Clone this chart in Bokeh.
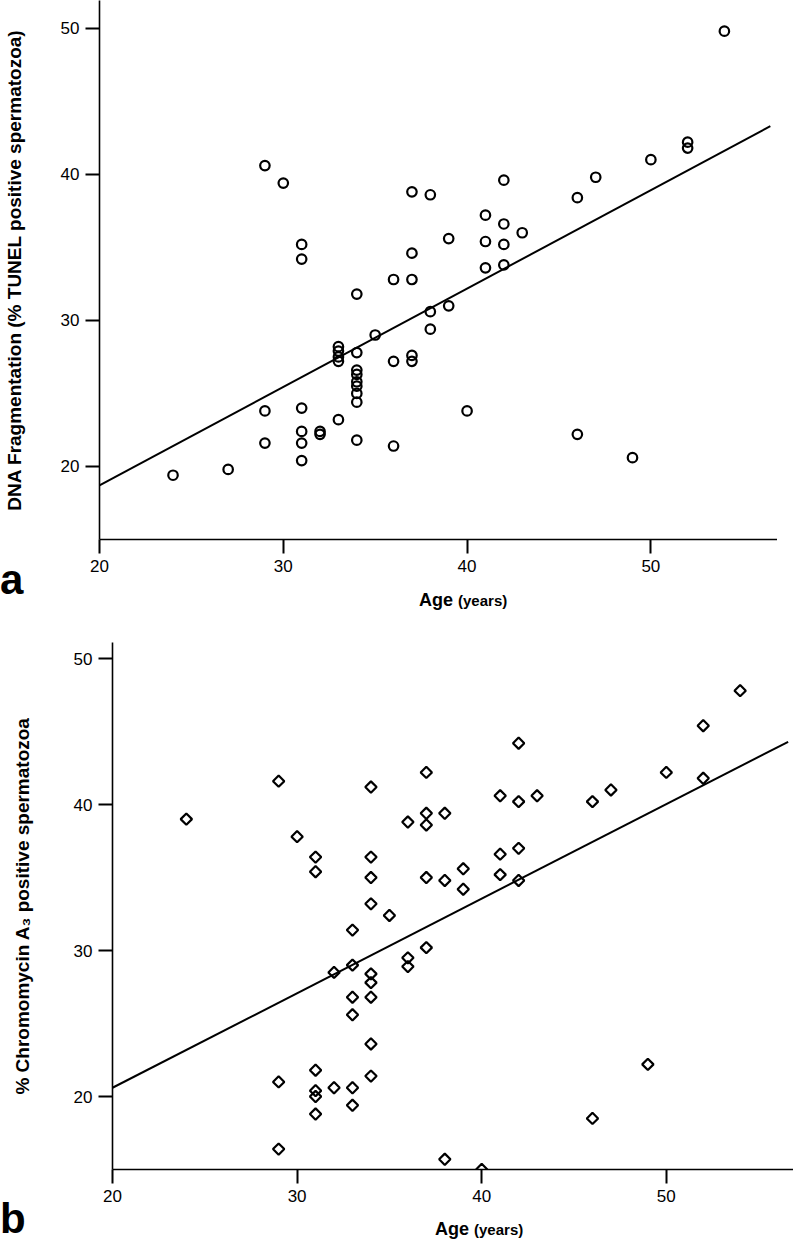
import numpy as np
from bokeh.plotting import figure
from bokeh.layouts import column, row
from bokeh.models import FixedTicker, Range1d, Div
from bokeh.embed import file_html
from bokeh.resources import INLINE

# ---- data ----
age_a = [24, 27, 29, 29, 29, 30, 31, 31, 31, 31, 31, 31, 32, 32, 33, 33, 33, 33, 33,
         34, 34, 34, 34, 34, 34, 34, 34, 34, 35, 36, 36, 36, 37, 37, 37, 37, 37,
         38, 38, 38, 39, 39, 40, 41, 41, 41, 42, 42, 42, 42, 43, 46, 46, 47, 49,
         50, 52, 52, 54]
dna_a = [19.4, 19.8, 40.6, 23.8, 21.6, 39.4, 35.2, 34.2, 24.0, 22.4, 21.6, 20.4,
         22.4, 22.2, 28.2, 27.9, 27.5, 27.2, 23.2, 31.8, 27.8, 26.6, 26.3, 25.8,
         25.5, 25.0, 24.4, 21.8, 29.0, 32.8, 27.2, 21.4, 38.8, 34.6, 32.8, 27.6,
         27.2, 38.6, 30.6, 29.4, 35.6, 31.0, 23.8, 37.2, 35.4, 33.6, 39.6, 36.6,
         35.2, 33.8, 36.0, 38.4, 22.2, 39.8, 20.6, 41.0, 42.2, 41.8, 49.8]
fit_x_a = [20, 56.5]
fit_y_a = [18.7, 43.3]

age_b = [24, 29, 29, 29, 30, 31, 31, 31, 31, 31, 31, 32, 32, 33, 33, 33, 33, 33, 33,
         34, 34, 34, 34, 34, 34, 34, 34, 34, 35, 36, 36, 36, 37, 37, 37, 37, 37,
         38, 38, 38, 39, 39, 40, 41, 41, 41, 42, 42, 42, 42, 43, 46, 46, 47, 49,
         50, 52, 52, 54]
cma_b = [39.0, 41.6, 21.0, 16.4, 37.8, 36.4, 35.4, 21.8, 20.4, 20.0, 18.8, 28.5,
         20.6, 31.4, 29.0, 26.8, 25.6, 20.6, 19.4, 41.2, 36.4, 35.0, 33.2, 28.4,
         27.8, 26.8, 23.6, 21.4, 32.4, 38.8, 29.5, 28.9, 42.2, 39.4, 38.6, 35.0,
         30.2, 39.4, 34.8, 15.7, 35.6, 34.2, 15.0, 40.6, 36.6, 35.2, 44.2, 40.2,
         37.0, 34.8, 40.6, 40.2, 18.5, 41.0, 22.2, 42.2, 45.4, 41.8, 47.8]
fit_x_b = [20, 56.6]
fit_y_b = [20.6, 44.3]

x_ticks = [20, 30, 40, 50]
y_ticks = [20, 30, 40, 50]

FONT = "Liberation Sans"


def style(p, ylabel, ystand):
    p.outline_line_color = None
    p.xgrid.visible = False
    p.ygrid.visible = False
    for ax in (p.xaxis[0], p.yaxis[0]):
        ax.axis_line_color = "black"
        ax.axis_line_width = 1.6
        ax.major_tick_line_color = "black"
        ax.major_tick_line_width = 2
        ax.major_tick_in = 0
        ax.major_tick_out = 14
        ax.minor_tick_line_color = None
        ax.major_label_text_font = FONT
        ax.major_label_text_font_size = "17px"
        ax.major_label_text_color = "black"
        ax.major_label_standoff = 6
    p.xaxis[0].ticker = FixedTicker(ticks=x_ticks)
    p.yaxis[0].ticker = FixedTicker(ticks=y_ticks)
    p.yaxis[0].axis_label = ylabel
    p.yaxis[0].axis_label_text_font = FONT
    p.yaxis[0].axis_label_text_font_style = "bold"
    p.yaxis[0].axis_label_text_font_size = "19px"
    p.yaxis[0].axis_label_text_color = "black"
    p.yaxis[0].axis_label_standoff = ystand


def caption(letter, letter_top, age_left, age_top, width, height):
    html = (
        f'<div style="position:relative;width:{width}px;height:{height}px;'
        f'font-family:\'{FONT}\';color:black;font-weight:bold;">'
        f'<span style="position:absolute;left:0px;top:{letter_top}px;'
        f'font-size:42px;line-height:42px;">{letter}</span>'
        f'<span style="position:absolute;left:{age_left}px;top:{age_top}px;'
        f'font-size:18px;line-height:18px;white-space:nowrap;">Age '
        f'<span style="font-size:15px;">(years)</span></span></div>'
    )
    return Div(text=html, width=width, height=height, margin=0,
               styles={"overflow": "visible", "padding": "0px"})


# ---- panel a ----
pa = figure(width=777, height=576, output_backend="svg", toolbar_location=None,
            x_range=Range1d(20, 56.89), y_range=Range1d(15, 51.9),
            min_border_left=96, min_border_right=0, min_border_top=0,
            min_border_bottom=37, background_fill_color="white",
            border_fill_color="white")
style(pa, "DNA Fragmentation (% TUNEL positive spermatozoa)", 33)
pa.line(fit_x_a, fit_y_a, line_color="black", line_width=2)
pa.scatter(age_a, dna_a, marker="circle", size=9.5, line_width=2.2,
           line_color="black", fill_color=None)

div_a = caption("a", -17, 419, 15, 793, 49)

# ---- panel b ----
pb = figure(width=793, height=581, output_backend="svg", toolbar_location=None,
            x_range=Range1d(20, 56.89), y_range=Range1d(15, 51.1),
            min_border_left=112, min_border_right=0, min_border_top=17,
            min_border_bottom=37, background_fill_color="white",
            border_fill_color="white")
style(pb, "% Chromomycin A\u2083 positive spermatozoa", 38)
pb.line(fit_x_b, fit_y_b, line_color="black", line_width=2)
pb.scatter(age_b, cma_b, marker="square", angle=np.pi / 4, size=8, line_width=2.2,
           line_color="black", fill_color=None)

div_b = caption("b", -8, 435, 14, 793, 35)

layout = column(row(pa), div_a, row(pb), div_b, spacing=0)
open("out.html", "w").write(file_html(layout, INLINE))
